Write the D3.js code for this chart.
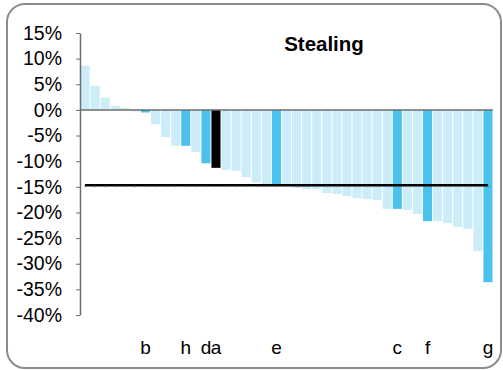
<!DOCTYPE html>
<html><head><meta charset="utf-8">
<script src="https://cdn.jsdelivr.net/npm/d3@7"></script>
<style>
html,body{margin:0;padding:0;background:#fff;}
text{font-family:"Liberation Sans",Arial,sans-serif;fill:#000;}
</style></head>
<body><svg id="c" width="503" height="370"></svg>
<script>
const labels = ["","","","","","","b","","","","h","","d","a","","","","","","e","","","","","","","","","","","","c","","","f","","","","","","g"];
const values = [8.6,4.7,2.4,0.8,0.4,-0.3,-0.5,-2.8,-5.3,-7.0,-7.0,-8.2,-10.4,-11.3,-11.7,-11.9,-13.1,-14.1,-14.5,-14.6,-14.8,-15.2,-15.4,-15.4,-16.2,-16.4,-16.8,-17.2,-17.4,-17.6,-19.3,-19.3,-19.5,-20.3,-21.7,-21.7,-22.1,-22.8,-23.2,-27.5,-33.6];
const kinds = ["l","l","l","l","l","l","d","l","l","l","d","l","d","k","l","l","l","l","l","d","l","l","l","l","l","l","l","l","l","l","l","d","l","l","d","l","l","l","l","l","d"];
const average = -14.7;
const yTicks = [15,10,5,0,-5,-10,-15,-20,-25,-30,-35,-40];
const title = "Stealing";

const colors = {l:"#CCECF8", d:"#4AC2EC", k:"#000000"};
const svg = d3.select("#c");

svg.append("rect").attr("x",7).attr("y",4).attr("width",494).attr("height",364)
  .attr("rx",18).attr("ry",18).attr("fill","#fff").attr("stroke","#8c8c8c").attr("stroke-width",2);

const idx = d3.range(values.length);
const x = d3.scaleBand().domain(idx).range([80,493]).paddingInner(0.1).paddingOuter(0.05);
const y = d3.scaleLinear().domain([-40,15]).range([315,33]);

svg.append("g").selectAll("rect").data(idx).join("rect")
  .attr("x", i => x(i)).attr("width", x.bandwidth())
  .attr("y", i => y(Math.max(0, values[i])))
  .attr("height", i => Math.abs(y(values[i]) - y(0)))
  .attr("fill", i => colors[kinds[i]]);

// zero line
svg.append("line").attr("x1",80).attr("x2",493).attr("y1",y(0)).attr("y2",y(0))
  .attr("stroke","#6e6e6e").attr("stroke-width",1.5);

// average line
const xc = i => x(i) + x.bandwidth()/2;
svg.append("line").attr("x1",xc(0)).attr("x2",xc(values.length-1))
  .attr("y1",y(average)).attr("y2",y(average)).attr("stroke","#000").attr("stroke-width",2.5);
svg.append("g").selectAll("line").data(idx).join("line")
  .attr("x1", i => xc(i)).attr("x2", i => xc(i))
  .attr("y1", y(average)).attr("y2", y(average)+1.8)
  .attr("stroke","#555").attr("stroke-width",1);

// y axis
const ya = svg.append("g").attr("transform","translate(80,0)")
  .call(d3.axisLeft(y).tickValues(yTicks).tickFormat(d => d + "%").tickSize(4).tickPadding(14).tickSizeOuter(0));
ya.select(".domain").attr("stroke","#6e6e6e").attr("stroke-width",1.5);
ya.selectAll(".tick line").attr("stroke","#6e6e6e");
ya.selectAll("text").attr("font-size",19.5).attr("fill","#000")
  .attr("font-family","'Liberation Sans',Arial,sans-serif");

// category labels
svg.append("g").selectAll("text").data(idx.filter(i => labels[i] !== "")).join("text")
  .attr("x", i => xc(i)).attr("y", 354).attr("text-anchor","middle")
  .attr("font-size",19).text(i => labels[i]);

svg.append("text").attr("x",324).attr("y",51).attr("text-anchor","middle")
  .attr("font-size",20.5).attr("font-weight","bold").text(title);
</script></body></html>
